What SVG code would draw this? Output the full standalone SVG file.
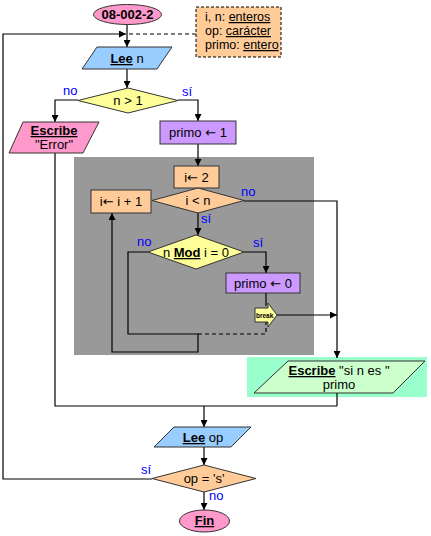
<svg xmlns="http://www.w3.org/2000/svg" width="431" height="536" viewBox="0 0 431 536">
<style>
text{font-family:"Liberation Sans",Arial,sans-serif;font-size:13px;fill:#000}
.c{text-anchor:middle}
.b{font-weight:bold;text-decoration:underline}
.u{text-decoration:underline}
.ar{font-family:"DejaVu Sans",sans-serif;font-size:13px}
.lbl{fill:#0000FF}
.sh{stroke:#333;stroke-width:1}
.ln{fill:none;stroke:#000;stroke-width:1.2}
.dash{fill:none;stroke:#000;stroke-width:1.2;stroke-dasharray:4,3}
</style>
<defs>
<marker id="ah" viewBox="0 0 8 8" refX="8" refY="4" markerWidth="7" markerHeight="7" markerUnits="userSpaceOnUse" orient="auto">
<path d="M0,0 L8,4 L0,8 z" fill="#000"/>
</marker>
</defs>
<rect id="loopbg" x="74" y="157" width="240" height="198" fill="#999999"/>
<rect id="outbg" x="247" y="357" width="180" height="40" fill="#99FFCC"/>
<g id="connectors">
<path class="ln" d="M127,24 V47" marker-end="url(#ah)"/>
<path class="ln" d="M152,479 H3 V34 H126" marker-end="url(#ah)"/>
<path class="dash" d="M196,34 H129"/>
<path class="ln" d="M127,69 V88" marker-end="url(#ah)"/>
<path class="ln" d="M78,100 H55 V122" marker-end="url(#ah)"/>
<path class="ln" d="M178,100 H198 V121" marker-end="url(#ah)"/>
<path class="ln" d="M55,153 V406 H337"/>
<path class="ln" d="M337,393 V406"/>
<path class="ln" d="M204,406 V427" marker-end="url(#ah)"/>
<path class="ln" d="M198,144 V166" marker-end="url(#ah)"/>
<path class="ln" d="M198,213 V235" marker-end="url(#ah)"/>
<path class="ln" d="M244,201 H337 V358" marker-end="url(#ah)"/>
<path class="ln" d="M244,252 H266 V273" marker-end="url(#ah)"/>
<path class="ln" d="M148,252 H128 V334 H198 V352 H112 V213" marker-end="url(#ah)"/>
<path class="dash" d="M198,334 H266 V320"/>
<path class="ln" d="M266,293 V306"/>
<path class="ln" d="M277,315 H337" marker-end="url(#ah)"/>
<path class="ln" d="M204,447 V465" marker-end="url(#ah)"/>
<path class="ln" d="M204,492 V510" marker-end="url(#ah)"/>
</g>
<g id="labels">
<text class="lbl" x="63" y="95">no</text>
<text class="lbl" x="182" y="96">sí</text>
<text class="lbl" x="241" y="196">no</text>
<text class="lbl" x="201" y="223">sí</text>
<text class="lbl" x="137" y="246">no</text>
<text class="lbl" x="253" y="247">sí</text>
<text class="lbl" x="141" y="474">sí</text>
<text class="lbl" x="209" y="500">no</text>
</g>
<g id="start">
<ellipse class="sh" cx="127.5" cy="14.5" rx="34" ry="10" fill="#FF99CC"/>
<text class="c" x="127.5" y="19" font-weight="bold">08-002-2</text>
</g>
<g id="decl">
<rect x="196" y="7" width="85" height="50" fill="#FFCC99" stroke="#000" stroke-dasharray="3,2"/>
<text x="205" y="21" style="font-size:12.5px">i, n: <tspan class="u">enteros</tspan></text>
<text x="205" y="35" style="font-size:12.5px">op: <tspan class="u">carácter</tspan></text>
<text x="205" y="49" style="font-size:12.5px">primo: <tspan class="u">entero</tspan></text>
</g>
<g id="leen">
<polygon class="sh" points="97,47 172,47 157,69 82,69" fill="#99CCFF"/>
<text class="c" x="127" y="63"><tspan class="b">Lee</tspan> n</text>
</g>
<g id="d1">
<polygon class="sh" points="128,88 178,100.5 128,113 78,100.5" fill="#FFFF99"/>
<text class="c" x="128" y="105">n &gt; 1</text>
</g>
<g id="err">
<polygon class="sh" points="23,122 99,122 83,153 9,153" fill="#FF99CC"/>
<text class="c b" x="54" y="135">Escribe</text>
<text class="c" x="54" y="149">"Error"</text>
</g>
<g id="primo1">
<rect class="sh" x="160" y="121" width="76" height="23" fill="#CC99FF"/>
<text class="c" x="198" y="137">primo <tspan class="ar">←</tspan> 1</text>
</g>
<g id="i2">
<rect class="sh" x="174" y="166" width="45" height="22" fill="#FFCC99"/>
<text class="c" x="196.5" y="182">i<tspan class="ar">←</tspan> 2</text>
</g>
<g id="d2">
<polygon class="sh" points="198,188 244,200.5 198,213 152,200.5" fill="#FFCC99"/>
<text class="c" x="198" y="205">i &lt; n</text>
</g>
<g id="inc">
<rect class="sh" x="91" y="190" width="60" height="23" fill="#FFCC99"/>
<text class="c" x="121" y="206">i<tspan class="ar">←</tspan> i + 1</text>
</g>
<g id="d3">
<polygon class="sh" points="196,235 244,252 196,269 148,252" fill="#FFFF99"/>
<text class="c" x="196" y="257">n <tspan class="b">Mod</tspan> i = 0</text>
</g>
<g id="primo0">
<rect class="sh" x="226" y="273" width="74" height="20" fill="#CC99FF"/>
<text class="c" x="263" y="288">primo <tspan class="ar">←</tspan> 0</text>
</g>
<g id="brk">
<polygon class="sh" points="255,308 268,308 268,303 277,315 268,327 268,322 255,322" fill="#FFFF99"/>
<text x="256" y="318" style="font-size:6.5px;font-weight:bold">break</text>
</g>
<g id="out">
<polygon class="sh" points="288,361 425,361 393,393 254,393" fill="#CCFFCC"/>
<text class="c" x="339" y="375"><tspan class="b">Escribe</tspan> "si n es "</text>
<text class="c" x="339" y="389">primo</text>
</g>
<g id="leeop">
<polygon class="sh" points="174,427 251,427 231,447 154,447" fill="#99CCFF"/>
<text class="c" x="203" y="442"><tspan class="b">Lee</tspan> op</text>
</g>
<g id="d4">
<polygon class="sh" points="204,465 256,478.5 204,492 152,478.5" fill="#FFCC99"/>
<text class="c" x="204" y="483">op = 's'</text>
</g>
<g id="fin">
<ellipse class="sh" cx="204.5" cy="521" rx="25" ry="11" fill="#FF99CC"/>
<text class="c b" x="204.5" y="525">Fin</text>
</g>
</svg>
